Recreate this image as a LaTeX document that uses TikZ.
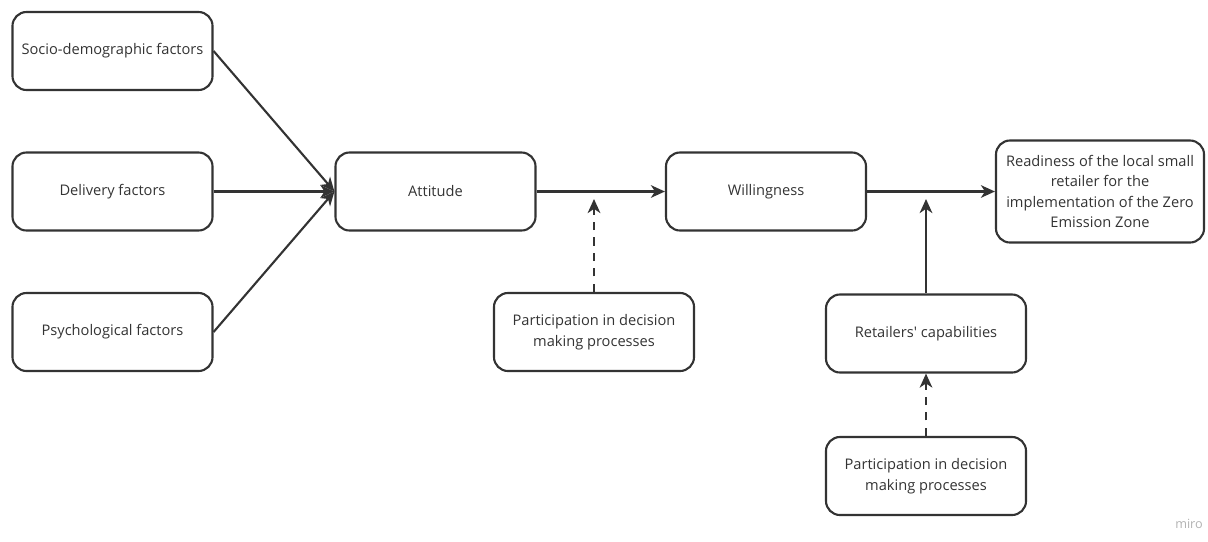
\documentclass[tikz,border=0pt]{standalone}
\usepackage{fontspec}
\setmainfont{Open Sans}
\usetikzlibrary{arrows.meta}
\definecolor{ink}{HTML}{333333}
\begin{document}
\begin{tikzpicture}[x=0.025cm, y=-0.025cm,
      box/.style={rectangle, draw=ink, line width=1.5pt, rounded corners=10pt,
                  minimum width=5cm, minimum height=1.95cm,
                  align=center, text=ink, font=\fontsize{10.4}{14.5}\selectfont},
      arrow/.style={-{Stealth[length=10pt, width=9pt, inset=3pt]}, draw=ink, line width=1.5pt},
      dasharrow/.style={arrow, dash pattern=on 6pt off 5pt}
    ]
    \useasboundingbox (0,0) rectangle (1208,541);
    \node[box] (socio) at (112.5, 51)  {Socio-demographic factors};
    \node[box] (deliv) at (112.5, 191.5) {Delivery factors};
    \node[box] (psych) at (112.5, 332) {Psychological factors};
    \node[box] (att)   at (435.5, 191.5) {Attitude};
    \node[box] (will)  at (766, 191.5) {Willingness};
    \node[box, minimum width=5.2cm, minimum height=2.55cm] (ready) at (1100, 191.5)
         {Readiness of the local small\\retailer for the\\implementation of the Zero\\Emission Zone};
    \node[box] (part1) at (594, 332) {Participation in decision\\making processes};
    \node[box] (cap)   at (926, 333.5) {Retailers\textquotesingle\ capabilities};
    \node[box] (part2) at (926, 476) {Participation in decision\\making processes};
    \coordinate (j1) at (594, 199);
    \coordinate (j2) at (926, 199);
    \draw[arrow] (socio.east) -- (att.west);
    \draw[arrow] (deliv) -- (att);
    \draw[arrow] (psych.east) -- (att.west);
    \draw[arrow] (att) -- (will);
    \draw[arrow] (will) -- (ready);
    \draw[dasharrow] (part1) -- (j1);
    \draw[arrow] (cap) -- (j2);
    \draw[dasharrow] (part2) -- (cap);
    \node[text=black!30, font=\fontsize{9}{11}\selectfont] (miro) at (1189, 524) {miro};
\end{tikzpicture}
\end{document}
